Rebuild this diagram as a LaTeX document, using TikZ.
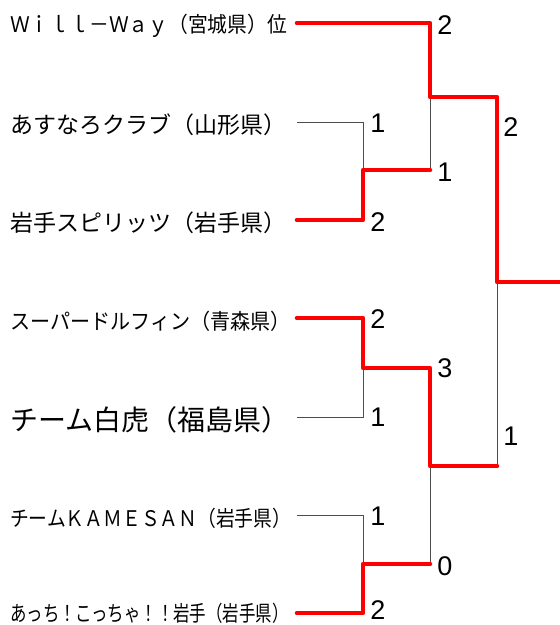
\documentclass[tikz,border=0pt]{standalone}
\usepackage{fontspec}
\usepackage{graphicx}
\newfontfamily\jpfont{Noto Sans CJK JP}
\newfontfamily\numfont{Liberation Sans}
\usetikzlibrary{positioning}

\begin{document}
\begin{tikzpicture}[x=1pt, y=-1pt,
        team/.style={anchor=west, inner sep=0pt, font=\jpfont},
        score/.style={inner sep=0pt, font=\numfont\fontsize{27}{27}\selectfont},
        win/.style={draw=red, line width=4.6pt, line cap=round, line join=round},
        lose/.style={draw=black!70, line width=0.9pt}]
        \useasboundingbox (0,0) rectangle (560,625);

        % teams
        \node[team] (willway) at (10,26) {\fontsize{21.5}{24}\selectfont\scalebox{0.92}[1]{Ｗｉｌｌ－Ｗａｙ（宮城県）位}};
        \node[team] (asunaro) at (10,125) {\fontsize{23}{24}\selectfont あすなろクラブ（山形県）};
        \node[team] (spirits) at (10,223) {\fontsize{23}{24}\selectfont 岩手スピリッツ（岩手県）};
        \node[team] (dolphin) at (10,321) {\fontsize{21.5}{24}\selectfont\scalebox{0.935}[1]{スーパードルフィン（青森県）}};
        \node[team] (byakko) at (10,420) {\fontsize{28}{28}\selectfont チーム白虎（福島県）};
        \node[team] (kamesan) at (10,518) {\fontsize{21.5}{24}\selectfont\scalebox{0.873}[1]{チームＫＡＭＥＳＡＮ（岩手県）}};
        \node[team] (acchi) at (10,613) {\fontsize{21.5}{24}\selectfont\scalebox{0.765}[1]{あっち！こっちゃ！！岩手（岩手県）}};

        % entry points and junctions
        \coordinate (e1) at (297,23);
        \coordinate (e2) at (297,122);
        \coordinate (e3) at (297,220);
        \coordinate (e4) at (297,318);
        \coordinate (e5) at (297,417);
        \coordinate (e6) at (297,515);
        \coordinate (e7) at (297,613);
        \coordinate (a1) at (363,170);
        \coordinate (a2) at (363,368);
        \coordinate (a3) at (363,564);
        \coordinate (b1) at (430,97);
        \coordinate (b2) at (430,466);
        \coordinate (c) at (497,282);
        \coordinate (champ) at (560,282);

        % losing sides
        \draw[lose] (e2) -| (a1);
        \draw[lose] (a1 -| b1) -- (b1);
        \draw[lose] (e5) -| (a2);
        \draw[lose] (e6) -| (a3);
        \draw[lose] (a3 -| b2) -- (b2);
        \draw[lose] (b2 -| c) -- (c);

        % winning sides
        \draw[win] (e1) -| (b1) -| (c) -- (champ);
        \draw[win] (e3) -| (a1) -- (a1 -| b1);
        \draw[win] (e4) -| (a2) -| (b2) -- (b2 -| c);
        \draw[win] (e7) -| (a3) -- (a3 -| b2);

        % scores
        \node[score] (s1) at (445,25) {2};
        \node[score] (s2) at (378,123) {1};
        \node[score] (s3) at (378,222) {2};
        \node[score] (s4) at (445,172) {1};
        \node[score] (s5) at (511,127) {2};
        \node[score] (s6) at (378,319) {2};
        \node[score] (s7) at (378,417) {1};
        \node[score] (s8) at (445,368) {3};
        \node[score] (s9) at (378,516) {1};
        \node[score] (s10) at (378,610) {2};
        \node[score] (s11) at (445,566) {0};
        \node[score] (s12) at (511,436) {1};
    \end{tikzpicture}
\end{document}
